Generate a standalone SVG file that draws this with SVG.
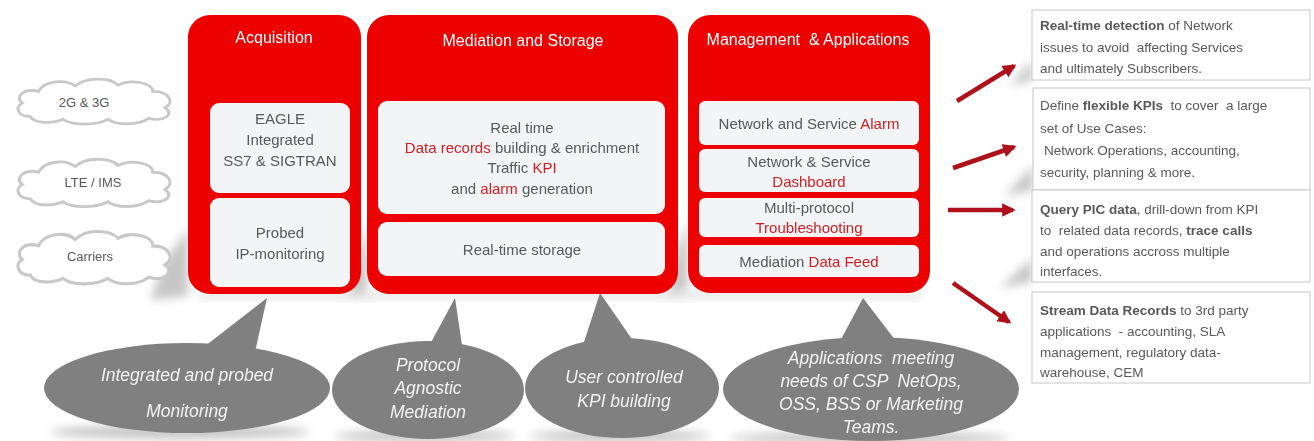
<svg xmlns="http://www.w3.org/2000/svg" width="1314" height="441" viewBox="0 0 1314 441">
<style>
.panel{fill:#EC0000}
.inner{fill:#F3F4F6}
.title{font-family:"Liberation Sans",Arial,sans-serif;font-size:16px;fill:#FFFFFF;text-anchor:middle}
.t{font-family:"Liberation Sans",Arial,sans-serif;font-size:15px;fill:#595959;text-anchor:middle}
.r{fill:#CC1F24}
.cloud{fill:#FFFFFF;stroke:#C8C8C8;stroke-width:3}
.ct{font-family:"Liberation Sans",Arial,sans-serif;font-size:13px;fill:#595959;text-anchor:middle}
.call{fill:#808080}
.callt{font-family:"Liberation Sans",Arial,sans-serif;font-size:17.5px;font-style:italic;fill:#F2F2F2;text-anchor:middle}
.note{fill:#FFFFFF;stroke:#C8C8C8;stroke-width:1}
.nt{font-family:"Liberation Sans",Arial,sans-serif;font-size:13.5px;fill:#595959}
.b{font-weight:bold}
.arr{stroke:#AE111B;stroke-width:4.5;fill:none;marker-end:url(#ah)}
.sh{fill:#8C8C8C;filter:url(#blur)}
</style>
<defs>
<marker id="ah" viewBox="0 0 10 10" refX="8" refY="5" markerWidth="3" markerHeight="3" orient="auto" markerUnits="strokeWidth">
<path d="M0,0 L10,5 L0,10 Z" fill="#AE111B"/>
</marker>
<filter id="blur" x="-50%" y="-50%" width="200%" height="200%"><feGaussianBlur stdDeviation="5"/></filter>
<path id="cloudp" d="M18,44 C6,44 2,34 10,29 C2,22 12,12 26,16 C32,4 52,2 62,10 C72,0 96,0 104,9 C116,2 138,6 138,16 C154,16 160,28 150,34 C160,42 148,50 134,46 C124,54 102,54 94,47 C82,54 58,54 50,47 C40,52 22,52 18,44 Z"/>
</defs>

<g id="shadows" opacity="0.5">
<polygon class="sh" points="188,228 188,296 150,300 165,262"/>
<polygon class="sh" points="367,225 367,292 350,296 356,260"/>
<polygon class="sh" points="688,220 688,290 668,294 676,255"/>
<rect class="sh" x="200" y="292" width="720" height="7" opacity="0.5"/>
<polygon class="sh" points="1032,60 1032,80 1010,86"/>
<polygon class="sh" points="1033,165 1033,190 1005,196"/>
<polygon class="sh" points="1032,258 1032,282 1000,288"/>
<ellipse class="sh" cx="180" cy="432" rx="130" ry="7"/>
<ellipse class="sh" cx="425" cy="436" rx="90" ry="6"/>
<ellipse class="sh" cx="620" cy="436" rx="90" ry="6"/>
<ellipse class="sh" cx="870" cy="438" rx="140" ry="6"/>
</g>

<g id="cloud-2g3g">
<use href="#cloudp" class="cloud" transform="translate(12,77) scale(1.02,0.9)"/>
<text class="ct" x="84" y="107">2G &amp; 3G</text>
</g>
<g id="cloud-lte">
<use href="#cloudp" class="cloud" transform="translate(12,157) scale(1.02,0.95)"/>
<text class="ct" x="93" y="187">LTE / IMS</text>
</g>
<g id="cloud-carriers">
<use href="#cloudp" class="cloud" transform="translate(12,229) scale(1.02,1.05)"/>
<text class="ct" x="90" y="261">Carriers</text>
</g>

<g id="acquisition">
<rect class="panel" x="188" y="15" width="173" height="279" rx="22"/>
<text class="title" x="274" y="43">Acquisition</text>
<rect class="inner" x="210" y="103" width="140" height="90" rx="9"/>
<text class="t" x="280" y="124" font-size="14.5">EAGLE</text>
<text class="t" x="280" y="145" font-size="14.5">Integrated</text>
<text class="t" x="280" y="166" font-size="14.5">SS7 &amp; SIGTRAN</text>
<rect class="inner" x="210" y="198" width="140" height="89" rx="9"/>
<text class="t" x="280" y="238">Probed</text>
<text class="t" x="280" y="259">IP-monitoring</text>
</g>

<g id="mediation">
<rect class="panel" x="367" y="15" width="311" height="279" rx="22"/>
<text class="title" x="523" y="46">Mediation and Storage</text>
<rect class="inner" x="378" y="101" width="287" height="113" rx="9"/>
<text class="t" x="522" y="133" font-size="14.5">Real time</text>
<text class="t" x="522" y="153" font-size="14.5"><tspan class="r">Data records</tspan> building &amp; enrichment</text>
<text class="t" x="522" y="173" font-size="14.5">Traffic <tspan class="r">KPI</tspan></text>
<text class="t" x="522" y="194" font-size="14.5">and <tspan class="r">alarm</tspan> generation</text>
<rect class="inner" x="378" y="222" width="287" height="54" rx="9"/>
<text class="t" x="522" y="255">Real-time storage</text>
</g>

<g id="management">
<rect class="panel" x="688" y="15" width="242" height="278" rx="22"/>
<text class="title" x="808" y="45" xml:space="preserve">Management  &amp; Applications</text>
<rect class="inner" x="699" y="101" width="220" height="44" rx="6"/>
<text class="t" x="809" y="129">Network and Service <tspan class="r">Alarm</tspan></text>
<rect class="inner" x="699" y="149" width="220" height="43" rx="6"/>
<text class="t" x="809" y="167">Network &amp; Service</text>
<text class="t r" x="809" y="187">Dashboard</text>
<rect class="inner" x="699" y="198" width="220" height="39" rx="6"/>
<text class="t" x="809" y="213" font-size="13">Multi-protocol</text>
<text class="t r" x="809" y="233">Troubleshooting</text>
<rect class="inner" x="699" y="245" width="220" height="32" rx="6"/>
<text class="t" x="809" y="267">Mediation <tspan class="r">Data Feed</tspan></text>
</g>

<g id="connectors">
<line class="arr" x1="957" y1="101" x2="1014" y2="66"/>
<line class="arr" x1="953" y1="168" x2="1014" y2="147"/>
<line class="arr" x1="948" y1="210" x2="1013" y2="210"/>
<line class="arr" x1="953" y1="283" x2="1009" y2="322"/>
</g>

<g id="note-detection">
<rect class="note" x="1032" y="10" width="278" height="70"/>
<text class="nt" x="1040" y="30"><tspan class="b">Real-time detection</tspan> of Network</text>
<text class="nt" x="1040" y="52" xml:space="preserve">issues to avoid  affecting Services</text>
<text class="nt" x="1040" y="73">and ultimately Subscribers.</text>
</g>
<g id="note-kpis">
<rect class="note" x="1033" y="88" width="277" height="102"/>
<text class="nt" x="1040" y="110" xml:space="preserve">Define <tspan class="b">flexible KPIs</tspan>  to cover  a large</text>
<text class="nt" x="1040" y="133">set of Use Cases:</text>
<text class="nt" x="1044" y="155">Network Operations, accounting,</text>
<text class="nt" x="1040" y="177">security, planning &amp; more.</text>
</g>
<g id="note-query">
<rect class="note" x="1032" y="190" width="278" height="92"/>
<text class="nt" x="1040" y="214"><tspan class="b">Query PIC data</tspan>, drill-down from KPI</text>
<text class="nt" x="1040" y="235" xml:space="preserve">to  related data records, <tspan class="b">trace calls</tspan></text>
<text class="nt" x="1040" y="256">and operations accross multiple</text>
<text class="nt" x="1040" y="276">interfaces.</text>
</g>
<g id="note-stream">
<rect class="note" x="1032" y="292" width="278" height="91"/>
<text class="nt" x="1040" y="315"><tspan class="b">Stream Data Records</tspan> to 3rd party</text>
<text class="nt" x="1040" y="336" xml:space="preserve">applications  - accounting, SLA</text>
<text class="nt" x="1040" y="357">management, regulatory data-</text>
<text class="nt" x="1040" y="377">warehouse, CEM</text>
</g>

<g id="callout-monitoring">
<ellipse class="call" cx="187" cy="388" rx="143" ry="45"/>
<polygon class="call" points="267,298 200,350 255,352"/>
<text class="callt" x="187" y="381">Integrated and probed</text>
<text class="callt" x="187" y="417">Monitoring</text>
</g>
<g id="callout-mediation">
<ellipse class="call" cx="428" cy="390" rx="96" ry="49"/>
<polygon class="call" points="455,298 428,348 462,345"/>
<text class="callt" x="428" y="371">Protocol</text>
<text class="callt" x="428" y="394">Agnostic</text>
<text class="callt" x="428" y="418">Mediation</text>
</g>
<g id="callout-kpi">
<ellipse class="call" cx="622" cy="388" rx="97" ry="50"/>
<polygon class="call" points="600,293 582,348 634,342"/>
<text class="callt" x="624" y="383">User controlled</text>
<text class="callt" x="624" y="407">KPI building</text>
</g>
<g id="callout-apps">
<ellipse class="call" cx="871" cy="389" rx="148" ry="52"/>
<polygon class="call" points="863,298 838,345 899,345"/>
<text class="callt" x="871" y="364" xml:space="preserve">Applications  meeting</text>
<text class="callt" x="871" y="387" xml:space="preserve">needs of CSP  NetOps,</text>
<text class="callt" x="871" y="410">OSS, BSS or Marketing</text>
<text class="callt" x="871" y="433">Teams.</text>
</g>
</svg>
